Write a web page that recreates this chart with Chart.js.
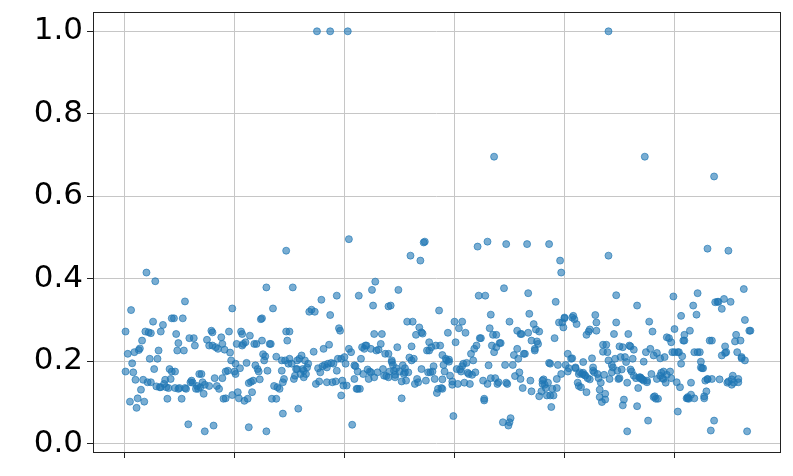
<!DOCTYPE html>
<html>
<head>
<meta charset="utf-8">
<script src="https://cdn.jsdelivr.net/npm/chart.js@4"></script>
<style>
  html, body { margin: 0; padding: 0; background: #fff; }
  #wrap { width: 793px; height: 476px; }
</style>
</head>
<body>
<div id="wrap"><canvas id="scatter" width="793" height="476"></canvas></div>
<script>
// tick values
const xTicks = [0, 100, 200, 300, 400, 500];
const yTicks = [0.0, 0.2, 0.4, 0.6, 0.8, 1.0];

// sample index / value in slices from left to right
const idx1 = [1,1,3,5,6,7,8,9,10,11,12,13,14,15,16,17,18,19,20,21,22,23,24,24,26,27,28,29,30,31,32,33,33,35,36,37,38,39,40,41,42,43];
const val1 = [0.272,0.175,0.218,0.102,0.324,0.195,0.173,0.222,0.155,0.087,0.11,0.227,0.231,0.131,0.25,0.155,0.102,0.272,0.415,0.149,0.27,0.206,0.268,0.149,0.296,0.181,0.394,0.139,0.206,0.226,0.137,0.272,0.137,0.288,0.145,0.155,0.137,0.109,0.135,0.181,0.157,0.304];

const idx2 = [43,45,46,46,47,48,49,49,50,52,53,54,55,55,56,58,59,60,61,62,63,64,65,66,67,68,69,70,71,72,73,73,75,77,77,79,80,80,81,82,83,84,85,86,88,89,89,90,91];
const val2 = [0.175,0.304,0.175,0.135,0.266,0.226,0.133,0.244,0.135,0.109,0.304,0.226,0.135,0.345,0.133,0.047,0.256,0.149,0.153,0.148,0.256,0.238,0.133,0.14,0.133,0.169,0.137,0.169,0.149,0.121,0.143,0.03,0.252,0.238,0.14,0.274,0.27,0.238,0.044,0.159,0.234,0.14,0.23,0.133,0.258,0.242,0.159,0.109,0.228];

const idx3 = [92,92,94,95,96,97,98,98,100,101,101,102,103,104,105,106,107,107,108,109,110,111,112,113,113,114,115,116,117,118,119,120,121,122,123,124,125,125,126,127,128,129,129,130,132,133,134,135,136,138,138,139];
const val3 = [0.175,0.11,0.177,0.272,0.221,0.202,0.328,0.118,0.175,0.169,0.194,0.242,0.125,0.11,0.183,0.272,0.266,0.238,0.242,0.104,0.246,0.196,0.109,0.04,0.147,0.262,0.15,0.125,0.153,0.242,0.19,0.242,0.181,0.175,0.156,0.302,0.304,0.25,0.217,0.202,0.212,0.03,0.379,0.177,0.242,0.242,0.109,0.328,0.14,0.109,0.211,0.137];

const idx4 = [141,143,143,144,144,145,146,147,147,148,149,150,150,152,153,154,155,156,157,157,158,159,160,161,162,163,163,164,165,166,167,168,170,172,173,174,175,176,177,178,179,180,181,182,184,184,185,186,187,187,188,189];
const val4 = [0.133,0.177,0.202,0.149,0.073,0.157,0.202,0.468,0.272,0.25,0.194,0.206,0.272,0.194,0.379,0.157,0.165,0.181,0.202,0.181,0.085,0.206,0.169,0.214,0.181,0.161,0.177,0.202,0.169,0.185,0.194,0.32,0.325,0.223,0.32,0.145,1.0,0.183,0.151,0.173,0.349,0.188,0.23,0.191,0.185,0.149,0.194,0.24,0.312,1.0,0.196,0.149];

const idx5 = [190,192,193,193,194,195,196,197,197,198,199,200,201,202,203,204,204,206,207,209,209,210,211,212,212,213,214,215,216,217,218,219,220,221,222,223,224,224,225,226,227,227,228,229,230,231,233,234,235,236,237,238,240];
const val5 = [0.194,0.151,0.177,0.359,0.206,0.28,0.274,0.206,0.117,0.153,0.141,0.21,0.194,0.141,1.0,0.496,0.23,0.222,0.046,0.157,0.19,0.188,0.133,0.175,0.133,0.359,0.133,0.206,0.234,0.169,0.23,0.238,0.238,0.18,0.157,0.175,0.173,0.23,0.373,0.335,0.161,0.266,0.393,0.226,0.173,0.228,0.242,0.266,0.181,0.165,0.218,0.164,0.333];

const idx6 = [240,240,241,242,243,243,244,245,246,246,247,248,249,250,252,252,253,254,255,255,256,257,258,259,260,261,261,262,263,264,265,266,267,268,269,270,270,271,272,273,274,275,276,277,277,278,279,280,281,282,283,284,285,286,287,288];
const val6 = [0.218,0.161,0.175,0.335,0.202,0.198,0.191,0.177,0.167,0.161,0.183,0.234,0.373,0.175,0.151,0.11,0.19,0.169,0.183,0.173,0.153,0.296,0.173,0.209,0.456,0.202,0.236,0.296,0.206,0.145,0.264,0.157,0.149,0.282,0.444,0.27,0.181,0.267,0.488,0.49,0.153,0.226,0.173,0.226,0.246,0.173,0.234,0.175,0.188,0.157,0.238,0.123,0.133,0.323,0.238,0.135];

const idx7 = [289,289,289,290,291,292,293,294,295,295,296,298,298,299,300,301,302,303,304,305,306,307,307,308,309,310,311,312,313,314,315,316,317,318,319,320,321,322,323,324,326,327,327,328,330,330,331,332,333,333,334,335,336,336,337];
const val7 = [0.215,0.156,0.133,0.191,0.175,0.206,0.202,0.269,0.204,0.199,0.165,0.143,0.151,0.067,0.296,0.246,0.181,0.145,0.28,0.18,0.175,0.188,0.296,0.194,0.148,0.269,0.196,0.172,0.169,0.145,0.218,0.167,0.202,0.23,0.173,0.238,0.478,0.359,0.256,0.256,0.153,0.109,0.105,0.359,0.49,0.145,0.19,0.28,0.313,0.159,0.238,0.264,0.696,0.222,0.159];

const idx8 = [338,338,339,340,341,342,344,345,346,347,347,348,349,350,350,351,353,354,355,357,357,358,359,360,360,361,362,363,364,366,367,367,368,369,370,370,372,373,373,374,375,376,377,377,379,380,380,381,382,383,384,385,386,386];
const val8 = [0.264,0.234,0.145,0.149,0.244,0.244,0.052,0.377,0.191,0.148,0.484,0.145,0.044,0.052,0.296,0.062,0.191,0.215,0.164,0.23,0.274,0.206,0.173,0.157,0.266,0.266,0.135,0.218,0.218,0.484,0.269,0.365,0.315,0.153,0.127,0.25,0.29,0.23,0.226,0.277,0.248,0.242,0.115,0.272,0.127,0.153,0.145,0.156,0.143,0.135,0.117,0.148,0.196,0.484];

const idx9 = [387,387,388,389,390,391,392,393,393,394,395,396,397,397,398,399,400,400,401,403,403,404,406,407,407,408,409,410,410,411,412,413,413,414,415,416,417,417,418,419,420,420,421,422,423,423,425,426,426,427,428,429,429,430,431,432,432,433,434,435,435];
const val9 = [0.194,0.117,0.089,0.133,0.117,0.256,0.344,0.135,0.157,0.191,0.294,0.444,0.169,0.415,0.294,0.282,0.306,0.304,0.191,0.218,0.175,0.183,0.206,0.207,0.306,0.31,0.302,0.185,0.183,0.29,0.148,0.169,0.14,0.173,0.137,0.169,0.198,0.172,0.167,0.165,0.264,0.125,0.159,0.272,0.156,0.277,0.207,0.185,0.177,0.173,0.312,0.294,0.274,0.169,0.159,0.131,0.113,0.148,0.101,0.24,0.223];

const idx10 = [436,437,437,438,439,440,440,440,441,443,443,444,445,446,447,447,448,449,450,450,451,452,453,453,454,455,456,457,457,458,459,460,460,461,462,463,463,465,466,466,467,468,469,469,470,471,472,472,473,474,475,475,476,477,478,479,480,481,481,482,483,484,484];
const val10 = [0.167,0.121,0.107,0.24,0.222,1.0,0.456,0.202,0.157,0.173,0.191,0.185,0.266,0.206,0.294,0.36,0.177,0.157,0.159,0.236,0.21,0.18,0.093,0.234,0.107,0.21,0.198,0.148,0.03,0.266,0.238,0.236,0.18,0.175,0.206,0.165,0.228,0.159,0.091,0.335,0.135,0.161,0.161,0.159,0.157,0.156,0.199,0.153,0.696,0.222,0.153,0.149,0.056,0.296,0.23,0.169,0.272,0.214,0.113,0.115,0.109,0.22,0.157];

const idx11 = [485,487,487,488,489,490,490,491,492,493,493,495,496,497,497,498,499,500,500,502,503,503,504,505,506,506,507,508,509,509,511,512,512,513,514,515,515,517,518,518,520,521,521,523,524,524,525,526,527,527,528,529,530,530,530,532,533];
const val11 = [0.109,0.207,0.165,0.172,0.159,0.157,0.175,0.21,0.148,0.167,0.258,0.256,0.175,0.246,0.159,0.222,0.357,0.222,0.278,0.149,0.222,0.078,0.222,0.137,0.31,0.194,0.212,0.25,0.264,0.25,0.11,0.11,0.113,0.109,0.274,0.148,0.119,0.335,0.222,0.11,0.313,0.222,0.365,0.222,0.199,0.185,0.183,0.183,0.11,0.115,0.153,0.127,0.156,0.473,0.157,0.25,0.032];

const idx12 = [534,534,536,536,537,539,540,541,543,543,545,546,546,547,548,549,549,551,552,552,553,554,555,556,557,558,558,560,561,561,563,564,564,566,568,569];
const val12 = [0.25,0.157,0.648,0.056,0.343,0.344,0.344,0.156,0.214,0.327,0.351,0.236,0.22,0.222,0.148,0.468,0.151,0.344,0.156,0.143,0.165,0.148,0.248,0.264,0.222,0.157,0.149,0.25,0.21,0.207,0.375,0.202,0.3,0.03,0.274,0.274];

const allIdx = [idx1, idx2, idx3, idx4, idx5, idx6, idx7, idx8, idx9, idx10, idx11, idx12];
const allVal = [val1, val2, val3, val4, val5, val6, val7, val8, val9, val10, val11, val12];

const points = [];
allIdx.forEach((xs, s) => {
  xs.forEach((x, i) => points.push({ x: x, y: allVal[s][i] }));
});

// full box round the plot, like the matplotlib spines
const frame = {
  id: 'frame',
  afterDraw(chart) {
    const a = chart.chartArea;
    const c = chart.ctx;
    c.save();
    c.strokeStyle = '#222';
    c.lineWidth = 1;
    c.strokeRect(Math.round(a.left) + 0.5, Math.round(a.top) + 0.5,
                 Math.round(a.right - a.left), Math.round(a.bottom - a.top));
    c.restore();
  }
};

const gridColor = '#c6c6c6';

new Chart(document.getElementById('scatter'), {
  type: 'scatter',
  data: {
    datasets: [{
      data: points,
      backgroundColor: 'rgba(31, 119, 180, 0.6)',
      borderColor: 'rgba(31, 119, 180, 0.65)',
      borderWidth: 1,
      pointRadius: 3.5,
      pointHoverRadius: 3.5
    }]
  },
  options: {
    responsive: false,
    animation: false,
    devicePixelRatio: 1,
    layout: { padding: { top: 12, right: 13, left: 0, bottom: 0 } },
    plugins: {
      legend: { display: false },
      tooltip: { enabled: false }
    },
    scales: {
      x: {
        type: 'linear',
        min: -28.6,
        max: 595.9,
        afterBuildTicks: s => { s.ticks = xTicks.map(v => ({ value: v })); },
        afterFit: s => { s.height = 24; s.paddingLeft = 0; s.paddingRight = 0; },
        ticks: { display: false },
        grid: { color: gridColor, lineWidth: 1, tickLength: 6, tickColor: '#222' },
        border: { display: false }
      },
      y: {
        min: -0.0201,
        max: 1.0468,
        afterBuildTicks: s => { s.ticks = yTicks.map(v => ({ value: v })); },
        afterFit: s => { s.width = 93; s.paddingTop = 0; s.paddingBottom = 0; },
        ticks: {
          color: '#000',
          padding: 4,
          font: { family: 'DejaVu Sans', size: 31 },
          callback: v => Number(v).toFixed(1)
        },
        grid: { color: gridColor, lineWidth: 1, tickLength: 6, tickColor: '#222' },
        border: { display: false }
      }
    }
  },
  plugins: [frame]
});
</script>
</body>
</html>
